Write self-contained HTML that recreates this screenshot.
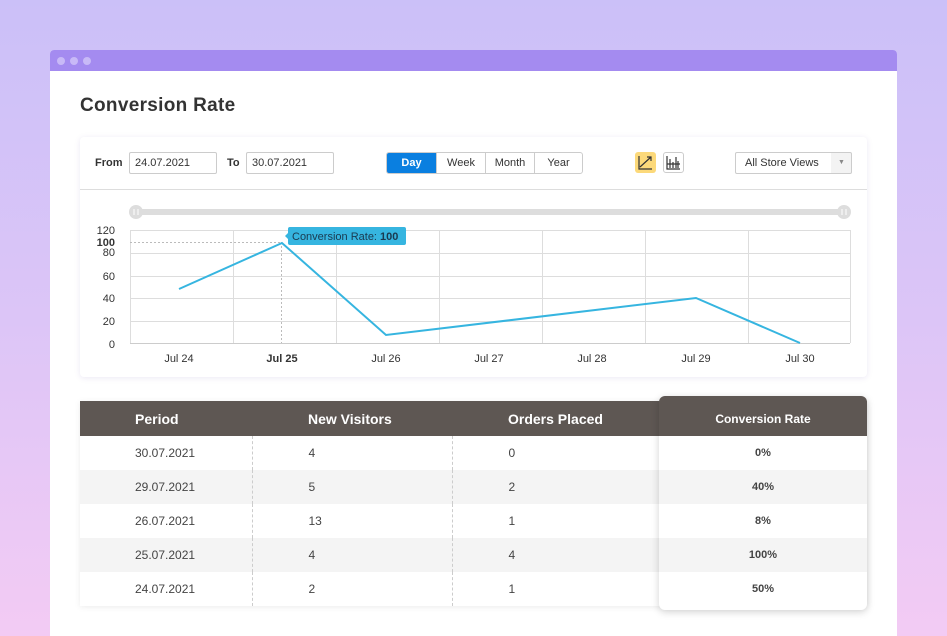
<!DOCTYPE html>
<html><head><meta charset="utf-8"><style>
*{box-sizing:border-box;margin:0;padding:0}
html,body{width:947px;height:636px;overflow:hidden}
body{font-family:"Liberation Sans",sans-serif;background:linear-gradient(180deg,#cbc0f8 0%,#dcc5f7 50%,#f3cbf4 100%);position:relative;color:#333}
.win{position:absolute;left:50px;top:50px;width:847px;height:586px;background:#fff;border-radius:4px 4px 0 0;overflow:hidden}
.tb{height:21px;background:#a48bf0;position:relative}
.tb i{position:absolute;top:7px;width:8px;height:8px;border-radius:50%;background:#c8b9f7}
h1{position:absolute;left:30px;top:45px;font-size:19px;font-weight:bold;color:#333;letter-spacing:.3px}
.card{position:absolute;left:30px;top:87px;width:787px;height:240px;background:#fff;border-radius:4px;box-shadow:0 1px 6px rgba(120,100,180,.15)}
.abs{position:absolute}
.inp{position:absolute;top:15px;height:22px;border:1px solid #ccc;border-radius:2px;font-size:11px;line-height:20px;padding-left:5px;color:#333}
.lbl{position:absolute;top:20px;font-size:11px;font-weight:bold;color:#333}
.seg{position:absolute;left:306px;top:15px;height:22px;border:1px solid #ccc;border-radius:3px;display:flex;font-size:11px;overflow:hidden}
.seg div{line-height:20px;text-align:center;border-left:1px solid #ccc;color:#333}
.seg div:first-child{border:none;background:#0a7fe0;color:#fff;font-weight:bold}
table{position:absolute;left:30px;top:351px;width:787px;border-collapse:collapse;font-size:12px;box-shadow:0 1px 6px rgba(0,0,0,.08)}
th{background:#5e5753;color:#fff;height:35px;font-size:14px;text-align:left;font-weight:bold}
td{height:34px;color:#444}
tr:nth-child(odd) td{background:#f4f4f4}
td.b{border-left:1px dashed #ccc}
.hl{position:absolute;left:609px;top:346px;width:208px;height:214px;background:#fff;border-radius:6px;box-shadow:0 2px 8px rgba(0,0,0,.18);overflow:hidden;font-size:11px;font-weight:bold;text-align:center;color:#444}
.hl div{height:34px;line-height:34px}
</style></head><body>
<div class="win">
<div class="tb"><i style="left:7px"></i><i style="left:20px"></i><i style="left:33px"></i></div>
<h1>Conversion Rate</h1>
<div class="card">
<div class="lbl" style="left:15px">From</div>
<div class="inp" style="left:49px;width:88px">24.07.2021</div>
<div class="lbl" style="left:147px">To</div>
<div class="inp" style="left:166px;width:88px">30.07.2021</div>
<div class="seg"><div style="width:49px">Day</div><div style="width:49px">Week</div><div style="width:49px">Month</div><div style="width:48px">Year</div></div>
<div class="abs" style="left:555px;top:15px;width:21px;height:21px;background:#fcd97a;border-radius:3px"><svg width="21" height="21"><path d="M4 4V17H17M5 15L16 5M12 5H16V9" stroke="#333" fill="none" stroke-width="1.2"/></svg></div>
<div class="abs" style="left:583px;top:15px;width:21px;height:21px;border:1px solid #ccc;border-radius:3px"><svg width="19" height="19"><path d="M3 3V16H16M6 6V15M9 9V15M12 4V15M14 8V15M3 11H16" stroke="#333" fill="none" stroke-width="1.2"/></svg></div>
<div class="inp" style="left:655px;width:117px;padding-left:9px;background:linear-gradient(90deg,#fff 95px,#f3f3f3 95px)">All Store Views<span style="position:absolute;left:102px;top:0;font-size:7px;color:#888">▼</span></div>
<div class="abs" style="left:0;top:52px;width:787px;height:1px;background:#ddd"></div>
</div>
<svg class="abs" style="left:0;top:0" width="847" height="330">
<rect x="80" y="159" width="715" height="6" rx="3" fill="#ddd"/>
<circle cx="86" cy="162" r="7" fill="#ddd"/><circle cx="794" cy="162" r="7" fill="#ddd"/>
<g stroke="#fff" stroke-width="1"><path d="M84 159v6M88 159v6M792 159v6M796 159v6"/></g>
<g stroke="#ddd" stroke-width="1">
<path d="M80 180.5H800M80 203.5H800M80 226.5H800M80 248.5H800M80 271.5H800"/>
<path d="M80.5 180V293M183.5 180V293M286.5 180V293M389.5 180V293M492.5 180V293M595.5 180V293M698.5 180V293M800.5 180V293"/>
</g>
<path d="M80 293.5H800" stroke="#ccc"/>
<path d="M80 192.5H231M231.5 192V293" stroke="#bbb" stroke-dasharray="2,2"/>
<polyline points="129,239 232,193 336,285 646,248 750,293" fill="none" stroke="#36b5e0" stroke-width="2"/>
<g font-size="11" fill="#333" text-anchor="end" font-family="Liberation Sans">
<text x="65" y="184">120</text><text x="65" y="196" font-weight="bold">100</text><text x="65" y="206">80</text><text x="65" y="230">60</text><text x="65" y="252">40</text><text x="65" y="275">20</text><text x="65" y="298">0</text></g>
<g font-size="11" fill="#333" text-anchor="middle" font-family="Liberation Sans">
<text x="129" y="312">Jul 24</text><text x="232" y="312" font-weight="bold">Jul 25</text><text x="336" y="312">Jul 26</text><text x="439" y="312">Jul 27</text><text x="542" y="312">Jul 28</text><text x="646" y="312">Jul 29</text><text x="750" y="312">Jul 30</text></g>
<path d="M235 186L239 182V190Z" fill="#36b5e0"/>
<rect x="238" y="177" width="118" height="18" rx="2" fill="#36b5e0"/>
<text x="242" y="190" font-size="11" fill="#1a3a50" font-family="Liberation Sans">Conversion Rate: <tspan font-weight="bold">100</tspan></text>
</svg>
<table>
<tr><th style="padding-left:55px;width:172px">Period</th><th style="padding-left:56px;width:200px">New Visitors</th><th style="padding-left:56px">Orders Placed</th><th style="width:208px"></th></tr>
<tr><td style="padding-left:55px">30.07.2021</td><td class="b" style="padding-left:56px">4</td><td class="b" style="padding-left:56px">0</td><td></td></tr>
<tr><td style="padding-left:55px">29.07.2021</td><td class="b" style="padding-left:56px">5</td><td class="b" style="padding-left:56px">2</td><td></td></tr>
<tr><td style="padding-left:55px">26.07.2021</td><td class="b" style="padding-left:56px">13</td><td class="b" style="padding-left:56px">1</td><td></td></tr>
<tr><td style="padding-left:55px">25.07.2021</td><td class="b" style="padding-left:56px">4</td><td class="b" style="padding-left:56px">4</td><td></td></tr>
<tr><td style="padding-left:55px">24.07.2021</td><td class="b" style="padding-left:56px">2</td><td class="b" style="padding-left:56px">1</td><td></td></tr>
</table>
<div class="hl">
<div style="background:#5e5753;color:#fff;font-size:12px;height:40px;line-height:46px">Conversion Rate</div>
<div>0%</div><div style="background:#f4f4f4">40%</div><div>8%</div><div style="background:#f4f4f4">100%</div><div>50%</div>
</div>
</div>
</body></html>
